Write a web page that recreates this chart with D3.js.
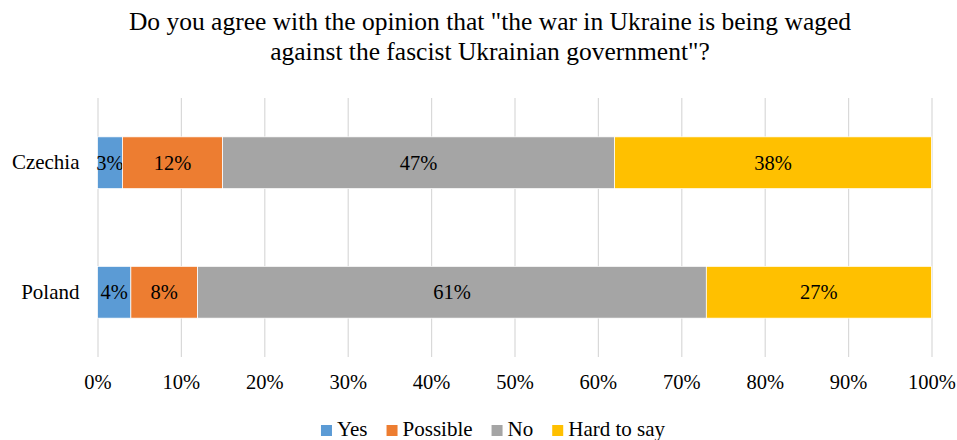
<!DOCTYPE html>
<html>
<head>
<meta charset="utf-8">
<script src="https://cdn.jsdelivr.net/npm/d3@7"></script>
<style>
  html, body { margin: 0; padding: 0; background: #fff; }
  svg { display: block; }
  svg text { font-family: "Times New Roman", "Liberation Serif", Tinos, "DejaVu Serif", "Noto Serif", serif !important; }
</style>
</head>
<body>
<svg id="chart" width="957" height="440"></svg>
<script>
// Survey answers by country (share of respondents)
const categories = ["Czechia", "Poland"];
const seriesNames = ["Yes", "Possible", "No", "Hard to say"];
const yesValues = [0.03, 0.04];
const possibleValues = [0.12, 0.08];
const noValues = [0.47, 0.61];
const hardToSayValues = [0.38, 0.27];
const tickValues = [0, 0.1, 0.2, 0.3, 0.4, 0.5, 0.6, 0.7, 0.8, 0.9, 1.0];
const titleLines = [
  "Do you agree with the opinion that \"the war in Ukraine is being waged",
  "against the fascist Ukrainian government\"?"
];
const colors = ["#5B9BD5", "#ED7D31", "#A5A5A5", "#FFC000"];

const rows = categories.map((c, i) => ({
  category: c,
  "Yes": yesValues[i],
  "Possible": possibleValues[i],
  "No": noValues[i],
  "Hard to say": hardToSayValues[i]
}));

const svg = d3.select("#chart");
const plot = { left: 97.5, right: 931.5, top: 98, bottom: 357 };

const x = d3.scaleLinear().domain([0, 1]).range([plot.left, plot.right]);
const y = d3.scaleBand().domain(categories).range([plot.top, plot.bottom])
  .paddingInner(0.6).paddingOuter(0.3);
const color = d3.scaleOrdinal().domain(seriesNames).range(colors);

// Title
svg.append("text")
  .attr("x", 490).attr("y", 30)
  .attr("text-anchor", "middle")
  .attr("font-size", 25.5)
  .attr("fill", "#000")
  .selectAll("tspan").data(titleLines).join("tspan")
  .attr("x", 490)
  .attr("dy", (d, i) => i === 0 ? 0 : 30)
  .text(d => d);

// Vertical gridlines and percentage tick labels
const xAxis = svg.append("g")
  .attr("transform", `translate(0,${plot.bottom})`)
  .call(d3.axisBottom(x).tickValues(tickValues)
    .tickFormat(d3.format(".0%"))
    .tickSizeInner(-(plot.bottom - plot.top))
    .tickSizeOuter(0)
    .tickPadding(17));
xAxis.select(".domain").remove();
xAxis.selectAll(".tick line").attr("stroke", "#D9D9D9").attr("stroke-width", 1.2);
xAxis.selectAll(".tick text")
  .attr("font-size", 20.5)
  .attr("fill", "#000");

// Stacked bars
const stack = d3.stack().keys(seriesNames);
const layers = stack(rows);

const layerG = svg.append("g").selectAll("g").data(layers).join("g")
  .attr("fill", d => color(d.key));

layerG.selectAll("rect").data(d => d).join("rect")
  .attr("x", d => x(d[0]))
  .attr("y", d => y(d.data.category))
  .attr("width", d => x(d[1]) - x(d[0]))
  .attr("height", y.bandwidth())
  .attr("stroke", "#fff")
  .attr("stroke-width", 0.75);

// Value labels centred in each segment
layerG.selectAll("text").data(d => d).join("text")
  .attr("x", d => (x(d[0]) + x(d[1])) / 2)
  .attr("y", d => y(d.data.category) + y.bandwidth() / 2)
  .attr("dy", "0.35em")
  .attr("text-anchor", "middle")
  .attr("font-size", 20.5)
  .attr("fill", "#000")
  .text(d => d3.format(".0%")(d[1] - d[0]));

// Category axis
const yAxis = svg.append("g")
  .attr("transform", `translate(${plot.left},0)`)
  .call(d3.axisLeft(y).tickSize(0).tickPadding(18));
yAxis.select(".domain").remove();
yAxis.selectAll(".tick text")
  .attr("font-size", 21)
  .attr("fill", "#000");

// Legend
const legend = svg.append("g");
const items = legend.selectAll("g").data(seriesNames).join("g");
items.append("rect")
  .attr("width", 11).attr("height", 11)
  .attr("y", -11)
  .attr("fill", d => color(d));
items.append("text")
  .attr("x", 16).attr("y", 0)
  .attr("font-size", 21)
  .attr("fill", "#000")
  .text(d => d);
let offset = 0;
const widths = [];
items.each(function () {
  const w = 16 + this.querySelector("text").getComputedTextLength();
  widths.push(w);
});
const gap = 19;
const total = d3.sum(widths) + gap * (widths.length - 1);
let start = 493 - total / 2;
items.attr("transform", (d, i) => {
  const t = `translate(${start + offset},436)`;
  offset += widths[i] + gap;
  return t;
});
</script>
</body>
</html>
